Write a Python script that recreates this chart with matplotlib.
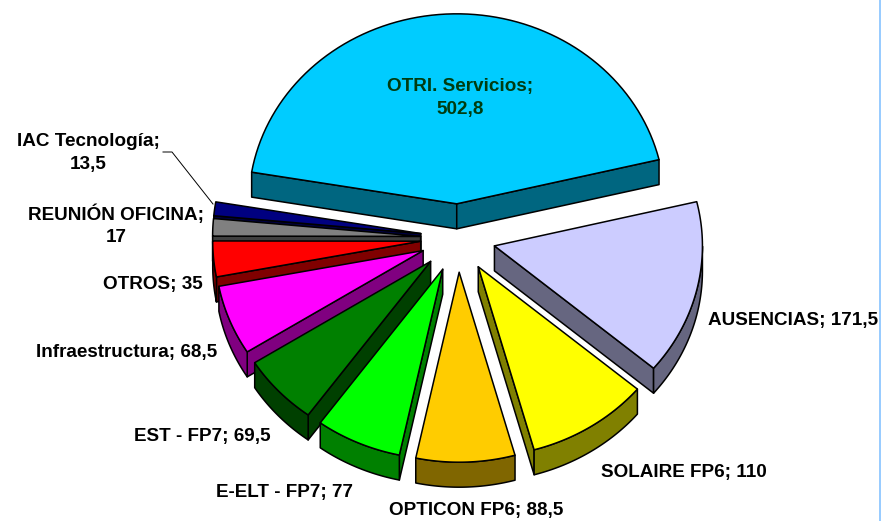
import numpy as np
import matplotlib
matplotlib.use('Agg')
import matplotlib.pyplot as plt
from matplotlib.colors import to_rgb
from matplotlib.patches import Polygon, Rectangle

names = ['OTRI. Servicios', 'AUSENCIAS', 'SOLAIRE FP6', 'OPTICON FP6', 'E-ELT - FP7',
         'EST - FP7', 'Infraestructura', 'OTROS', 'REUNIÓN OFICINA', 'IAC Tecnología']
values = [502.8, 171.5, 110, 88.5, 77, 69.5, 68.5, 35, 17, 13.5]
colors = ['#00CCFF', '#CCCCFF', '#FFFF00', '#FFCC00', '#00FF00',
          '#008000', '#FF00FF', '#FF0000', '#808080', '#000080']
# label centre in pixels, and whether the value goes on a second line
label_pos = [(460, 98), (793, 321), (684, 473), (476, 511), (284, 493),
             (202, 436), (127, 353), (153, 285), (116, 225), (88, 153)]
two_lines = [True, False, False, False, False, False, False, False, True, True]
label_colors = ['#003C10'] + ['black'] * 9

# pie geometry, pixels
CX, CY = 458, 238
RX, RY = 208, 190
DEPTH = 25
EXPLODE = 0.18
START = -80.4


def project(r, theta):
    # theta in degrees, clockwise from north
    t = np.radians(theta)
    return CX + r * RX * np.sin(t), CY - r * RY * np.cos(t)


def side(ax, pts, color, z):
    # extrude a polyline straight down and draw it as one face
    pts = np.asarray(pts)
    low = pts + [0, DEPTH]
    ax.add_patch(Polygon(np.vstack([pts, low[::-1]]), closed=True, facecolor=color,
                         edgecolor='black', linewidth=1.1, joinstyle='round', zorder=z))


fig = plt.figure(figsize=(8.81, 5.21), dpi=100)
ax = fig.add_axes([0, 0, 1, 1])
ax.set_xlim(0, 881)
ax.set_ylim(521, 0)
ax.axis('off')

vals = np.array(values)
edges = START + np.concatenate([[0], np.cumsum(vals)]) / vals.sum() * 360

slices = []
for i in range(len(vals)):
    mid = (edges[i] + edges[i + 1]) / 2
    slices.append((project(EXPLODE, mid)[1], i, mid))

# back to front
z = 2
for ay0, i, mid in sorted(slices):
    t0, t1 = edges[i], edges[i + 1]
    ax0, ay0 = project(EXPLODE, mid)
    dx, dy = ax0 - CX, ay0 - CY
    apex = np.array([ax0, ay0])
    th = np.linspace(t0, t1, 80)
    px, py = project(1, th)
    arc = np.column_stack([px + dx, py + dy])
    dark = tuple(c * 0.5 for c in to_rgb(colors[i]))

    # the walls and the part of the rim that face the viewer
    if np.sin(np.radians(t0)) < 0:
        side(ax, [apex, arc[0]], dark, z)
    if np.sin(np.radians(t1)) > 0:
        side(ax, [apex, arc[-1]], dark, z)
    front = np.cos(np.radians(th)) < 0
    if front.sum() > 1:
        side(ax, arc[front], dark, z)
    ax.add_patch(Polygon(np.vstack([apex, arc]), closed=True, facecolor=colors[i],
                         edgecolor='black', linewidth=1.1, joinstyle='round', zorder=z + 0.5))
    z += 1

for name, v, pos, two, col in zip(names, values, label_pos, two_lines, label_colors):
    val = f'{v:g}'.replace('.', ',')
    sep = '\n' if two else ' '
    ax.text(pos[0], pos[1], f'{name};{sep}{val}', ha='center', va='center', fontsize=13.6,
            fontweight='bold', family='Liberation Sans', color=col, linespacing=1.42,
            zorder=50)

# leader line for the small slice
ax.plot([163, 172, 213], [152, 152, 204], color='black', lw=0.7, zorder=50)

# light blue frame on the right
ax.add_patch(Rectangle((879, 0), 2, 521, facecolor='#99CCFF', edgecolor='none', zorder=60))

fig.savefig('out.png', dpi=100)
